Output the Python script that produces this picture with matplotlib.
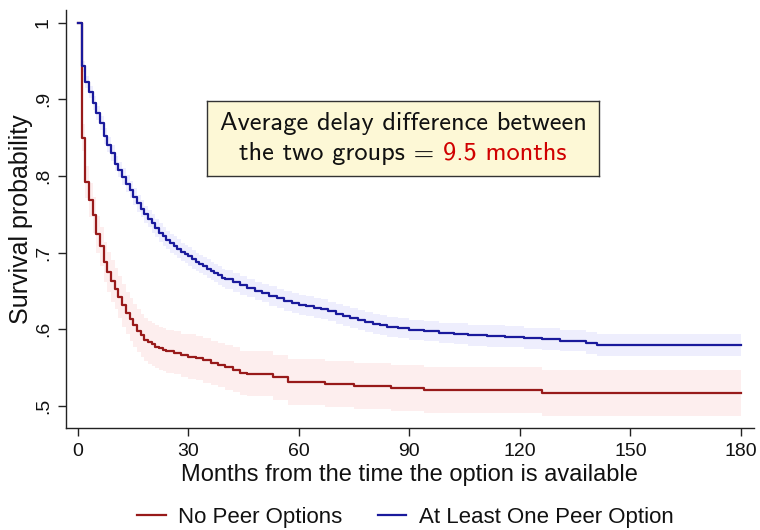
import matplotlib
matplotlib.use("Agg")
import matplotlib.pyplot as plt
from matplotlib.lines import Line2D

# ---- data ----
red_t = [0, 1, 2, 3, 4, 5, 6, 7, 8, 9, 10, 11, 12, 13, 14, 15, 16, 17, 18, 19, 20,
         21, 22, 23, 24, 26, 28, 30, 32, 34, 36, 38, 40, 42, 44, 46, 53, 57, 67, 75,
         85, 94, 126, 180]
red_s = [1.0, 0.850, 0.792, 0.769, 0.749, 0.724, 0.708, 0.688, 0.675, 0.663, 0.653,
         0.642, 0.631, 0.621, 0.613, 0.605, 0.598, 0.592, 0.586, 0.583, 0.580,
         0.577, 0.575, 0.573, 0.571, 0.569, 0.566, 0.564, 0.562, 0.559, 0.556,
         0.553, 0.550, 0.547, 0.543, 0.542, 0.537, 0.531, 0.528, 0.526, 0.523,
         0.520, 0.517, 0.517]
red_hw = [0.0, 0.018, 0.021, 0.022, 0.023, 0.024, 0.025, 0.026, 0.026, 0.027, 0.027,
          0.027, 0.028, 0.028, 0.028, 0.028, 0.028, 0.028, 0.028, 0.028, 0.028,
          0.028, 0.028, 0.028, 0.028, 0.028, 0.028, 0.029, 0.029, 0.029, 0.029,
          0.029, 0.029, 0.029, 0.029, 0.029, 0.029, 0.030, 0.030, 0.030, 0.030,
          0.030, 0.030, 0.030]

blue_t = [0, 1, 2, 3, 4, 5, 6, 7, 8, 9, 10, 11, 12, 13, 14, 15, 16, 17, 18, 19, 20,
          21, 22, 23, 24, 25, 26, 27, 28, 29, 30, 31, 32, 33, 34, 35, 36, 37, 38, 39,
          40, 42, 44, 46, 48, 50, 52, 54, 56, 58, 60, 62, 64, 66, 68, 70, 72, 74, 76,
          78, 80, 82, 84, 87, 90, 94, 98, 102, 106, 111, 116, 121, 126, 131, 138,
          141, 180]
blue_s = [1.0, 0.943, 0.923, 0.910, 0.895, 0.882, 0.869, 0.852, 0.841, 0.830, 0.816,
          0.808, 0.799, 0.790, 0.782, 0.773, 0.764, 0.757, 0.750, 0.744, 0.738,
          0.732, 0.726, 0.721, 0.716, 0.712, 0.709, 0.705, 0.701, 0.698, 0.695,
          0.691, 0.688, 0.685, 0.682, 0.679, 0.676, 0.673, 0.670, 0.667, 0.665,
          0.661, 0.657, 0.654, 0.650, 0.647, 0.643, 0.640, 0.637, 0.634, 0.632,
          0.630, 0.628, 0.626, 0.623, 0.620, 0.617, 0.614, 0.612, 0.609, 0.607,
          0.605, 0.603, 0.601, 0.599, 0.597, 0.595, 0.594, 0.592, 0.591, 0.590,
          0.588, 0.587, 0.585, 0.582, 0.579, 0.579]
blue_hw = [0.0, 0.007, 0.008, 0.008, 0.009, 0.009, 0.009, 0.010, 0.010, 0.010, 0.010,
           0.010, 0.011, 0.011, 0.011, 0.011, 0.011, 0.011, 0.011, 0.011, 0.012,
           0.012, 0.012, 0.012, 0.012, 0.012, 0.012, 0.012, 0.012, 0.012, 0.012,
           0.012, 0.012, 0.012, 0.012, 0.012, 0.012, 0.012, 0.012, 0.012, 0.012,
           0.012, 0.012, 0.012, 0.012, 0.012, 0.013, 0.013, 0.013, 0.013, 0.013,
           0.013, 0.013, 0.013, 0.013, 0.013, 0.013, 0.013, 0.013, 0.013, 0.013,
           0.013, 0.013, 0.013, 0.013, 0.013, 0.013, 0.014, 0.014, 0.014, 0.014,
           0.014, 0.014, 0.014, 0.014, 0.014, 0.014]

x_ticks = [0, 30, 60, 90, 120, 150, 180]
y_ticks = [0.5, 0.6, 0.7, 0.8, 0.9, 1.0]
y_ticklabels = [".5", ".6", ".7", ".8", ".9", "1"]
series_labels = ["No Peer Options", "At Least One Peer Option"]
xlabel = "Months from the time the option is available"
ylabel = "Survival probability"
note_line1 = "Average delay difference between"
note_line2a = "the two groups = "
note_line2b = "9.5 months"

# ---- styling ----
RED = "#981a1a"
BLUE = "#1a1a9c"
RED_BAND = "#fdeeee"
BLUE_BAND = "#eeeefd"

plt.rcParams["font.family"] = ["Liberation Sans", "DejaVu Sans"]

fig = plt.figure(figsize=(7.6, 5.3), dpi=100)
ax = fig.add_axes([0.0864, 0.1925, 0.9056, 0.7886])

red_lo = [s - h for s, h in zip(red_s, red_hw)]
red_hi = [s + h for s, h in zip(red_s, red_hw)]
blue_lo = [s - h for s, h in zip(blue_s, blue_hw)]
blue_hi = [s + h for s, h in zip(blue_s, blue_hw)]

ax.fill_between(red_t, red_lo, red_hi, step="post", color=RED_BAND, lw=0)
ax.fill_between(blue_t, blue_lo, blue_hi, step="post", color=BLUE_BAND, lw=0)
ax.step(red_t, red_s, where="post", color=RED, lw=1.6)
ax.step(blue_t, blue_s, where="post", color=BLUE, lw=1.6)

ax.set_xlim(-3.34, 183.55)
ax.set_ylim(0.4709, 1.0166)
ax.set_xticks(x_ticks)
ax.set_xticklabels([str(v) for v in x_ticks])
ax.set_yticks(y_ticks)
ax.set_yticklabels(y_ticklabels, rotation=90, va="center")
for s in ["top", "right"]:
    ax.spines[s].set_visible(False)
for s in ["left", "bottom"]:
    ax.spines[s].set_color("#222222")
    ax.spines[s].set_linewidth(1.0)
ax.tick_params(axis="both", direction="out", length=6, width=1.0, color="#222222",
               labelsize=14, labelcolor="#111111")
ax.tick_params(axis="x", pad=5)
ax.tick_params(axis="y", pad=4)
ax.set_xlabel(xlabel, fontsize=17, color="#111111", labelpad=3)
ax.set_ylabel(ylabel, fontsize=18, color="#111111")
ax.yaxis.set_label_coords((33 - 65.7) / 688.0, 0.5)

# annotation box
box_ax = fig.add_axes([207 / 760, 1 - 176 / 530, (599 - 207) / 760, (176 - 101) / 530])
box_ax.set_xticks([])
box_ax.set_yticks([])
box_ax.set_facecolor("#fdf8d6")
for s in box_ax.spines.values():
    s.set_color("#333333")
    s.set_linewidth(1.0)
box_ax.set_xlim(0, 1)
box_ax.set_ylim(0, 1)
FONT_NOTE = ["cmss10", "DejaVu Sans"]
NOTE_FS = 19
box_ax.text(0.5, 0.70, note_line1, ha="center", va="center", fontsize=NOTE_FS,
            family=FONT_NOTE, color="#111111")
t1 = box_ax.text(0.5, 0.30, note_line2a + note_line2b, ha="center", va="center",
                 fontsize=NOTE_FS, family=FONT_NOTE, color="white", alpha=0)
fig.canvas.draw()
bb = t1.get_window_extent()
inv = box_ax.transAxes.inverted()
x0 = inv.transform((bb.x0, bb.y0))[0]
ta = box_ax.text(x0, 0.30, note_line2a, ha="left", va="center", fontsize=NOTE_FS,
                 family=FONT_NOTE, color="#111111")
fig.canvas.draw()
bba = ta.get_window_extent()
xa = inv.transform((bba.x1, bba.y0))[0]
box_ax.text(xa, 0.30, note_line2b, ha="left", va="center", fontsize=NOTE_FS,
            family=FONT_NOTE, color="#d00000")

handles = [Line2D([], [], color=RED, lw=1.6), Line2D([], [], color=BLUE, lw=1.6)]
fig.legend(handles, series_labels, loc="center", bbox_to_anchor=(405 / 760, 1 - 517 / 530),
           ncol=2, frameon=False, fontsize=16, handlelength=1.3, handletextpad=0.55,
           columnspacing=1.6, labelcolor="#111111")

fig.savefig("out.png", dpi=100)
